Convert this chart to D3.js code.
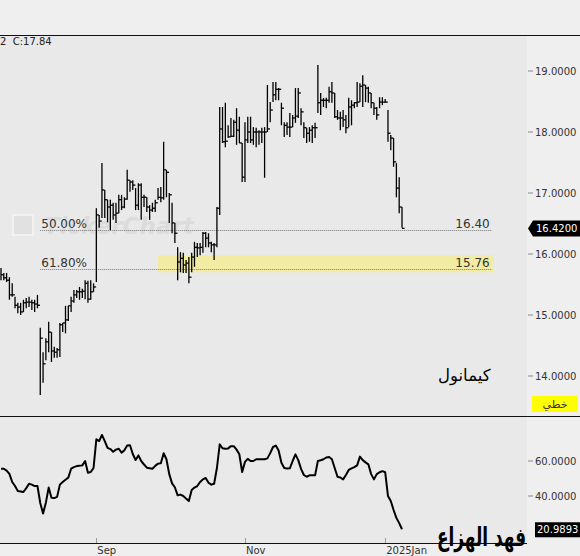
<!DOCTYPE html>
<html lang="en">
<head>
<meta charset="utf-8">
<title>كيمانول</title>
<script src="https://d3js.org/d3.v7.min.js"></script>
<style>
  body { margin: 0; background: #efefef; overflow: hidden; }
  text { font-family: "DejaVu Sans", sans-serif; }
</style>
</head>
<body>
<svg id="chart" width="580" height="556"></svg>
<script>

// daily bars (oldest first)
var highs = [15.77,15.69,15.69,15.62,15.52,15.30,15.20,15.20,15.25,15.28,15.30,15.25,15.25,15.33,
  14.79,14.39,14.62,14.89,14.72,14.48,14.46,14.87,14.87,15.15,15.15,15.30,15.41,15.41,15.46,15.43,15.57,15.56,15.57,15.52,
  16.75,16.64,17.49,17.05,16.89,16.89,16.84,16.84,16.97,16.97,16.93,17.38,17.21,17.21,17.08,17.16,17.16,16.97,16.93,16.80,16.84,16.89,17.08,17.10,
  17.84,17.38,17.00,16.84,16.51,16.11,16.03,16.02,15.90,15.95,16.02,16.20,16.18,16.18,16.36,16.36,16.34,16.20,16.18,16.77,
  18.41,18.41,18.48,18.11,18.23,18.20,18.39,18.25,17.82,18.16,18.25,18.25,18.08,18.07,18.03,18.07,18.08,18.77,18.49,18.82,
  18.82,18.72,18.48,18.16,18.16,18.31,18.28,18.72,18.72,18.39,18.16,18.07,18.08,18.11,18.15,19.10,18.64,18.56,18.56,18.74,
  18.82,18.64,18.36,18.33,18.36,18.28,18.56,18.52,18.49,18.82,18.80,18.93,18.77,18.74,18.64,18.48,18.41,18.57,18.57,18.54,18.36,17.95,17.90,17.49,17.26,16.77];

var lows = [15.57,15.57,15.54,15.25,15.30,15.11,15.03,15.00,15.05,15.11,15.13,15.08,15.05,15.11,
  13.69,13.89,14.26,14.39,14.23,14.30,14.30,14.31,14.72,14.70,14.90,15.05,15.20,15.28,15.25,15.28,15.26,15.20,15.25,15.38,
  15.54,16.43,16.59,16.59,16.52,16.39,16.56,16.51,16.67,16.72,16.75,16.89,17.02,17.05,16.72,16.72,16.56,16.77,16.69,16.56,16.69,16.69,16.89,16.85,
  16.89,16.93,16.51,16.34,16.18,15.57,15.70,15.69,15.69,15.52,15.70,15.79,15.95,15.98,16.02,16.11,16.11,16.03,15.90,16.11,
  16.64,17.82,17.75,17.90,17.92,17.92,17.79,17.82,17.18,17.18,17.82,17.82,17.79,17.75,17.79,17.82,17.25,18.00,18.16,18.49,
  18.52,18.52,18.11,17.92,17.95,17.92,18.08,18.15,18.23,18.11,17.90,17.82,17.84,17.82,17.90,18.31,18.28,18.41,18.39,18.48,
  18.48,18.23,18.20,18.03,18.08,17.98,18.08,18.11,18.39,18.41,18.49,18.41,18.49,18.48,18.39,18.28,18.20,18.39,18.44,18.48,17.84,17.70,17.43,16.93,16.67,16.43];

var closes = [15.66,15.61,15.57,15.33,15.33,15.16,15.13,15.05,15.20,15.21,15.21,15.20,15.18,15.16,
  14.62,14.20,14.56,14.72,14.41,14.39,14.43,14.84,14.87,14.92,15.15,15.23,15.33,15.38,15.38,15.39,15.52,15.26,15.38,15.46,
  16.64,16.54,17.05,16.89,16.77,16.80,16.64,16.67,16.89,16.77,16.90,17.21,17.18,17.13,16.80,17.13,16.93,16.93,16.77,16.72,16.75,16.84,16.93,16.92,
  17.38,17.34,16.97,16.51,16.34,15.87,15.93,15.82,15.85,15.62,15.95,16.11,16.10,16.11,16.34,16.26,16.18,16.15,16.15,16.75,
  18.05,17.84,17.85,17.92,17.93,18.16,18.03,17.82,17.26,17.87,18.00,17.87,18.00,18.00,18.00,18.00,18.00,18.05,18.36,18.61,
  18.70,18.70,18.39,18.11,18.08,18.08,18.23,18.26,18.64,18.33,18.07,17.98,18.03,18.07,18.07,18.48,18.52,18.52,18.52,18.66,
  18.64,18.25,18.23,18.23,18.20,18.07,18.41,18.44,18.48,18.49,18.75,18.77,18.72,18.64,18.48,18.39,18.28,18.49,18.49,18.49,17.98,17.90,17.51,17.08,16.77,16.42];

// lower panel oscillator, one value per bar
var rsi = [55.6,55.6,54.5,52.6,48,45.7,42.9,42.6,42.3,44.5,47,46.5,45.7,45.7,
  36,30,36.2,44.8,39,38.8,39.5,46.5,48,49.3,50.5,55.6,56.5,57.1,57.3,57.5,60,53.3,53.7,56,
  72.4,71.4,74.9,71.4,67.5,66.8,65.3,66.5,67,64.7,66.2,68.8,69,64,60.6,63.2,60,58,56.2,55.9,55.6,57.2,58.5,58.7,
  64.4,61,52.5,47.2,45,40.4,40.8,40,38.5,37.1,43.4,44.8,45.7,48,49.5,50.3,47.6,46.5,47,56,
  69.5,67.3,67,67.2,68.5,68.5,66.5,63.8,53.7,59.5,61.2,60,60,61,61,61,61,61.5,64.5,68,
  68.8,66,59,56,55.7,55.8,60,63.8,60.5,55.5,52,51,51.8,51.8,51.8,60,60.4,61,62,62.3,
  61,56,51,50.6,49.5,52,54.9,55.8,56.5,57.5,62.5,60.5,59.2,58.1,52.5,49.5,52.5,53.6,54.2,53.6,40,37.1,32,27.5,24.5,20.9893];

var priceTicks = [14, 15, 16, 17, 18, 19];
var rsiTicks = [40, 60];
var monthLabels = ["Sep", "Nov", "2025Jan"];
var monthBars = [34, 87, 137];
var fibLabels = ["50.00%", "61.80%"];
var fibLevels = [16.40, 15.76];
var zoneRange = [15.70, 15.98];
var zoneStartBar = 56;
var extendBars = 32;

var n = closes.length;
var plotRight = 527;
var svg = d3.select("#chart");

var x = d3.scaleLinear().domain([0, n - 1]).range([1, 402]);
var y = d3.scaleLinear().domain([14, 19]).range([376, 71]);
var yR = d3.scaleLinear().domain([40, 60]).range([496, 461]);

// panel backgrounds
svg.append("rect").attr("x", 0).attr("y", 36).attr("width", plotRight).attr("height", 380).attr("fill", "#e9e9e9");
svg.append("rect").attr("x", 0).attr("y", 417).attr("width", plotRight).attr("height", 126).attr("fill", "#e9e9e9");

// watermark
svg.append("rect").attr("x", 13).attr("y", 215).attr("width", 20).attr("height", 20)
  .attr("fill", "#e1e1e1").attr("stroke", "#f2f2f2").attr("stroke-width", 2);
svg.append("text").attr("x", 44).attr("y", 234).text("TickerChart")
  .attr("font-size", 23).attr("font-weight", "bold").attr("font-style", "italic")
  .attr("fill", "#dcdcdc");

// panel borders
svg.append("line").attr("x1", 0).attr("x2", 580).attr("y1", 35.5).attr("y2", 35.5).attr("stroke", "#111");
svg.append("line").attr("x1", 0).attr("x2", 580).attr("y1", 416.5).attr("y2", 416.5).attr("stroke", "#111");
svg.append("line").attr("x1", 0).attr("x2", plotRight).attr("y1", 543.5).attr("y2", 543.5).attr("stroke", "#111");

svg.append("text").attr("x", 0).attr("y", 45).attr("font-size", 10).attr("fill", "#222")
  .attr("xml:space", "preserve").text("2  C:17.84");

// fibonacci zone + levels
var lowBar = d3.minIndex(lows);
var fibEnd = x(n - 1 + extendBars);

svg.append("rect")
  .attr("x", x(zoneStartBar)).attr("y", y(zoneRange[1]))
  .attr("width", fibEnd + 2 - x(zoneStartBar)).attr("height", y(zoneRange[0]) - y(zoneRange[1]))
  .attr("fill", "#f3eb9c").attr("opacity", 0.9);

var fib = svg.selectAll(".fib").data(fibLevels).enter().append("g").attr("class", "fib");
fib.append("line")
  .attr("x1", x(lowBar)).attr("x2", fibEnd)
  .attr("y1", function(d) { return Math.round(y(d)) + 0.5; })
  .attr("y2", function(d) { return Math.round(y(d)) + 0.5; })
  .attr("stroke", "#777").attr("stroke-dasharray", "1,1");
fib.append("text")
  .attr("x", x(lowBar) + 1).attr("y", function(d) { return y(d) - 2; })
  .attr("font-size", 12).attr("fill", "#333")
  .text(function(d, i) { return fibLabels[i]; });
fib.append("text")
  .attr("x", fibEnd - 2).attr("y", function(d) { return y(d) - 2; })
  .attr("text-anchor", "end").attr("font-size", 12).attr("fill", "#333")
  .text(function(d) { return d3.format(".2f")(d); });

// HLC bars
var bars = svg.append("g").attr("stroke", "#000").attr("stroke-width", 1.3);
bars.selectAll(".hl").data(d3.range(n)).enter().append("line")
  .attr("x1", function(i) { return x(i); }).attr("x2", function(i) { return x(i); })
  .attr("y1", function(i) { return y(highs[i]); }).attr("y2", function(i) { return y(lows[i]); });
bars.selectAll(".cl").data(d3.range(n)).enter().append("line")
  .attr("x1", function(i) { return x(i); }).attr("x2", function(i) { return x(i) + 2.6; })
  .attr("y1", function(i) { return y(closes[i]); }).attr("y2", function(i) { return y(closes[i]); });

// price axis
var pt = svg.selectAll(".pt").data(priceTicks).enter().append("g");
pt.append("line").attr("x1", 528).attr("x2", 533)
  .attr("y1", function(d) { return y(d); }).attr("y2", function(d) { return y(d); })
  .attr("stroke", "#888");
pt.append("text").attr("x", 535).attr("y", function(d) { return y(d); }).attr("dy", "0.36em")
  .attr("font-size", 10).attr("fill", "#333").text(d3.format(".4f"));

// last price marker
var yl = y(closes[n - 1]);
svg.append("path")
  .attr("d", "M528," + yl + "L533," + (yl - 8) + "L580," + (yl - 8) + "L580," + (yl + 8) + "L533," + (yl + 8) + "Z")
  .attr("fill", "#000");
svg.append("text").attr("x", 536).attr("y", yl).attr("dy", "0.36em")
  .attr("font-size", 10).attr("fill", "#fff").text(d3.format(".4f")(closes[n - 1]));

// chart type tag
svg.append("rect").attr("x", 532).attr("y", 396).attr("width", 46).attr("height", 16).attr("fill", "#ffff00");
svg.append("text").attr("x", 555).attr("y", 404).attr("dy", "0.36em").attr("text-anchor", "middle")
  .attr("font-size", 11).attr("fill", "#333").text("خطي");

svg.append("text").attr("x", 438).attr("y", 381).attr("font-size", 16.5).attr("fill", "#000").text("كيمانول");

// oscillator panel
var line = d3.line().x(function(d, i) { return x(i); }).y(function(d) { return yR(d); });
svg.append("path").datum(rsi).attr("d", line)
  .attr("fill", "none").attr("stroke", "#000").attr("stroke-width", 2).attr("stroke-linejoin", "round");

var rt = svg.selectAll(".rt").data(rsiTicks).enter().append("g");
rt.append("line").attr("x1", 528).attr("x2", 533)
  .attr("y1", function(d) { return yR(d); }).attr("y2", function(d) { return yR(d); })
  .attr("stroke", "#888");
rt.append("text").attr("x", 535).attr("y", function(d) { return yR(d); }).attr("dy", "0.36em")
  .attr("font-size", 10).attr("fill", "#333").text(d3.format(".4f"));

var yrl = yR(rsi[n - 1]);
svg.append("rect").attr("x", 535).attr("y", yrl - 7).attr("width", 45).attr("height", 15).attr("fill", "#000");
svg.append("text").attr("x", 537).attr("y", yrl).attr("dy", "0.36em")
  .attr("font-size", 10).attr("fill", "#fff").text(d3.format(".4f")(rsi[n - 1]));

// month ticks
var mt = svg.selectAll(".mt").data(monthBars).enter().append("g");
mt.append("line")
  .attr("x1", function(d) { return Math.round(x(d)) + 0.5; }).attr("x2", function(d) { return Math.round(x(d)) + 0.5; })
  .attr("y1", 538).attr("y2", 543).attr("stroke", "#999");
mt.append("text").attr("x", function(d) { return x(d) + 1; }).attr("y", 554)
  .attr("font-size", 10).attr("fill", "#333")
  .text(function(d, i) { return monthLabels[i]; });

svg.append("text").attr("x", 437).attr("y", 546).attr("font-size", 26).attr("font-weight", "bold")
  .attr("textLength", 89).attr("lengthAdjust", "spacingAndGlyphs")
  .attr("fill", "#000").text("فهد الهزاع");

</script>
</body>
</html>
